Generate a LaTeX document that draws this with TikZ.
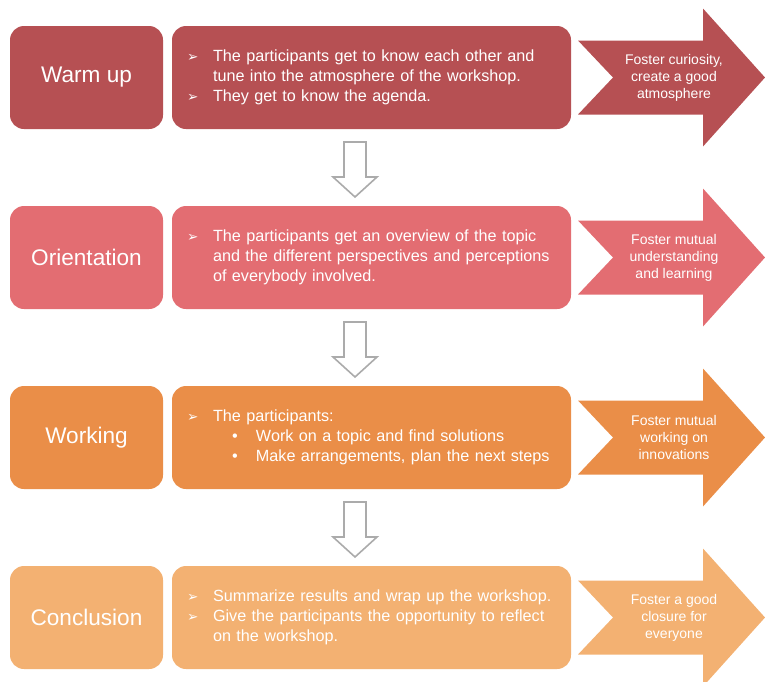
\documentclass[tikz,border=0pt]{standalone}
\usepackage{fontspec}
\setmainfont{Liberation Sans}
\newfontfamily\symfont{DejaVu Sans}
\usetikzlibrary{positioning,calc}
\definecolor{warmcol}{HTML}{B65053}
\definecolor{orientcol}{HTML}{E36D72}
\definecolor{workcol}{HTML}{EA8E48}
\definecolor{conclcol}{HTML}{F3B172}
\definecolor{arrowgray}{HTML}{ABABAB}
\newcommand{\bul}{\makebox[26pt][l]{\symfont\fontsize{13.5}{13.5}\selectfont ➢}}
\newcommand{\ind}{\hspace*{26pt}}
\newcommand{\subbul}{\hspace*{45pt}\makebox[24pt][l]{•}}

\begin{document}
\begin{tikzpicture}[x=1pt,y=1pt,node distance=180pt and 285pt,on grid,
  phase/.style={fill=#1,rounded corners=14pt,minimum width=153pt,minimum height=103pt,inner sep=0pt,text=white,font=\fontsize{22.6}{26}\selectfont},
  task/.style={fill=#1,rounded corners=14pt,text width=369pt,inner xsep=15pt,inner ysep=0pt,minimum height=103pt,align=left,text=white,font=\fontsize{16.2}{20}\selectfont},
  aim/.style={align=center,text=white,inner sep=0pt,font=\fontsize{14}{17}\selectfont},
  goal/.pic={\path[pic actions] (-96,37) -- (29,37) -- (29,69) -- (91,0) -- (29,-69) -- (29,-37) -- (-96,-37) -- (-61,0) -- cycle;},
  down/.pic={\path[pic actions] (-11,25.5) -- (11,25.5) -- (11,-9.5) -- (22,-9.5) -- (0,-29.5) -- (-22,-9.5) -- (-11,-9.5) -- cycle;}]
  \useasboundingbox (0,0) rectangle (765,-681);

  \node[phase=warmcol] (lab1) at (86.5,-77.5) {Warm up};
  \node[phase=orientcol] (lab2) [below = of lab1] {Orientation};
  \node[phase=workcol] (lab3) [below = of lab2] {Working};
  \node[phase=conclcol] (lab4) [below = of lab3] {Conclusion};

  \node[task=warmcol] (body1) [right = of lab1]
    {\bul The participants get to know each other and\\
     \ind tune into the atmosphere of the workshop.\\
     \bul They get to know the agenda.};
  \node[task=orientcol] (body2) [right = of lab2]
    {\bul The participants get an overview of the topic\\
     \ind and the different perspectives and perceptions\\
     \ind of everybody involved.};
  \node[task=workcol] (body3) [right = of lab3]
    {\bul The participants:\\
     \subbul Work on a topic and find solutions\\
     \subbul Make arrangements, plan the next steps};
  \node[task=conclcol] (body4) [right = of lab4]
    {\bul Summarize results and wrap up the workshop.\\
     \bul Give the participants the opportunity to reflect\\
     \ind on the workshop.};

  \pic[fill=warmcol] at ([xshift=302.5pt]body1.center) {goal};
  \pic[fill=orientcol] at ([xshift=302.5pt]body2.center) {goal};
  \pic[fill=workcol] at ([xshift=302.5pt]body3.center) {goal};
  \pic[fill=conclcol] at ([xshift=302.5pt]body4.center) {goal};

  \node[aim] (aim1) [right = 302.5pt of body1] {Foster curiosity,\\create a good\\atmosphere};
  \node[aim] (aim2) [right = 302.5pt of body2] {Foster mutual\\understanding\\and learning};
  \node[aim] (aim3) [right = 302.5pt of body3] {Foster mutual\\working on\\innovations};
  \node[aim] (aim4) [right = 302.5pt of body4] {Foster a good\\closure for\\everyone};

  \pic[draw=arrowgray,fill=white,line width=1.6pt] at ([xshift=-16.5pt]$(body1.south)!0.5!(body2.north)$) {down};
  \pic[draw=arrowgray,fill=white,line width=1.6pt] at ([xshift=-16.5pt]$(body2.south)!0.5!(body3.north)$) {down};
  \pic[draw=arrowgray,fill=white,line width=1.6pt] at ([xshift=-16.5pt]$(body3.south)!0.5!(body4.north)$) {down};
\end{tikzpicture}
\end{document}
